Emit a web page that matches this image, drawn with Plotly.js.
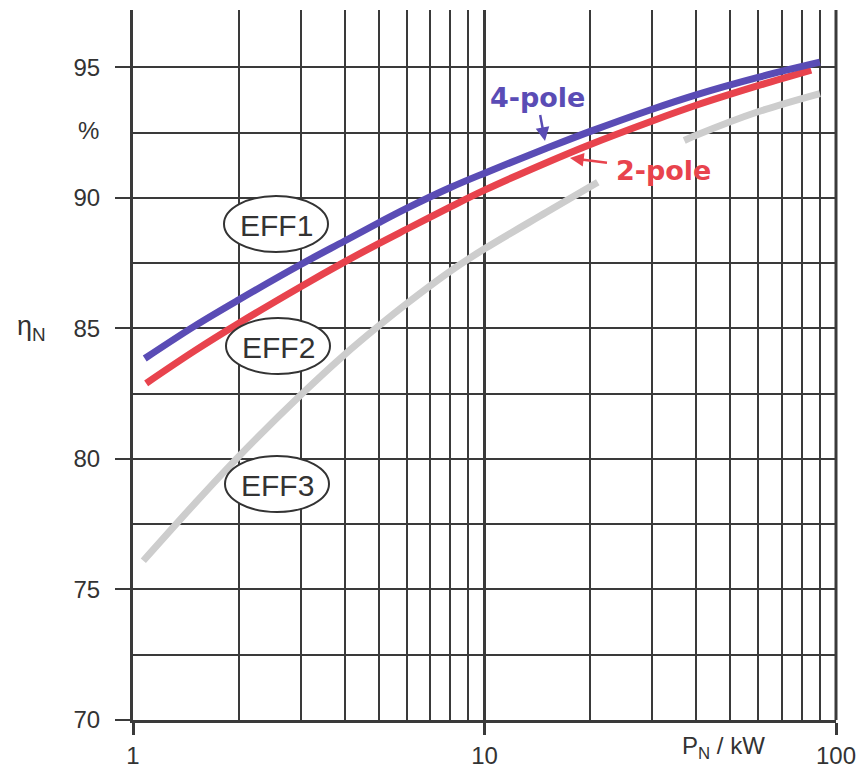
<!DOCTYPE html>
<html>
<head>
<meta charset="utf-8">
<script src="https://cdn.plot.ly/plotly-3.0.1.min.js"></script>
<style>html,body{margin:0;padding:0;background:#fff;}#chart{width:863px;height:769px;}</style>
</head>
<body>
<div id="chart"></div>
<script>
// ---- data ----
const power4pole = [1.08, 1.5, 2, 3, 4, 5, 6, 8, 10, 15, 20, 30, 40, 60, 90];
const eff4pole   = [83.85, 85.1, 86.1, 87.45, 88.35, 89.05, 89.6, 90.4, 90.95, 91.9, 92.55, 93.4, 93.95, 94.62, 95.2];
const power2pole = [1.09, 1.5, 2, 3, 4, 5, 6, 8, 10, 15, 20, 30, 40, 60, 85];
const eff2pole   = [82.9, 84.15, 85.2, 86.6, 87.55, 88.25, 88.8, 89.66, 90.3, 91.35, 92.05, 92.95, 93.55, 94.3, 94.9];
const powerEff3  = [1.07, 1.5, 2, 3, 4, 5, 6, 8, 10, 15, 21, 28, 37, 40, 60, 90];
const effEff3    = [76.1, 78.3, 80.1, 82.45, 84.0, 85.1, 85.95, 87.2, 88.05, 89.45, 90.6, null, 92.2, 92.4, 93.3, 94.0];

const xMajorTicks = [1, 10, 100];
const xMajorLabels = ['1', '10', '100'];
const xMinorTicks = [2, 3, 4, 5, 6, 7, 8, 9, 20, 30, 40, 50, 60, 70, 80, 90];
const yMajorTicks = [70, 75, 80, 85, 90, 95];
const yMajorLabels = ['70', '75', '80', '85', '90', '95'];
const yMinorTicks = [72.5, 77.5, 82.5, 87.5, 92.5];
const classLabels = ['EFF1', 'EFF2', 'EFF3'];
const seriesLabels = ['4-pole', '2-pole'];

// ---- layout geometry (pixels) ----
const W = 863, H = 769;
const M = {l: 133, r: 27, t: 10, b: 49};
const PW = W - M.l - M.r, PH = H - M.t - M.b;
const px = x => (x - M.l) / PW;
const py = y => (H - M.b - y) / PH;

const BLUE = '#5a4cb5', RED = '#e8434d', GRAY = '#cdcdcd', INK = '#333333', GRID = '#3a3a3a';
const FONT = 'Liberation Sans, Arial, Helvetica, sans-serif';

const traces = [
  {x: powerEff3, y: effEff3, mode: 'lines', line: {color: GRAY, width: 7, shape: 'spline', smoothing: 1}, connectgaps: false, name: 'EFF3 limit'},
  {x: power2pole, y: eff2pole, mode: 'lines', line: {color: RED, width: 7, shape: 'spline', smoothing: 1}, name: seriesLabels[1]},
  {x: power4pole, y: eff4pole, mode: 'lines', line: {color: BLUE, width: 7, shape: 'spline', smoothing: 1}, name: seriesLabels[0]}
];

const ellipses = [
  {cx: 276, cy: 224},
  {cx: 278, cy: 346},
  {cx: 277, cy: 484}
];
const shapes = ellipses.map(e => ({
  type: 'circle', xref: 'paper', yref: 'paper', layer: 'above',
  x0: px(e.cx - 52), x1: px(e.cx + 52), y0: py(e.cy + 28), y1: py(e.cy - 28),
  line: {color: INK, width: 2}, fillcolor: '#ffffff'
}));
// right border line at x = 100
shapes.push({type: 'line', xref: 'paper', yref: 'paper', x0: 1, x1: 1, y0: 0, y1: 1, layer: 'below',
  line: {color: GRID, width: 3}});

const annotations = [];
ellipses.forEach((e, i) => annotations.push({
  xref: 'paper', yref: 'paper', x: px(e.cx), y: py(e.cy + 1), xanchor: 'center', yanchor: 'middle',
  text: classLabels[i], showarrow: false, font: {family: FONT, size: 30, color: INK}
}));
annotations.push(
  {xref: 'paper', yref: 'paper', x: px(545), y: py(141), text: '<b>' + seriesLabels[0] + '</b>',
   showarrow: true, ax: -8, ay: -43, arrowhead: 2, arrowsize: 1.1, arrowwidth: 2.5, arrowcolor: BLUE,
   font: {family: 'DejaVu Sans, sans-serif', size: 27, color: BLUE}},
  {xref: 'paper', yref: 'paper', x: px(570), y: py(158), text: '<b>' + seriesLabels[1] + '</b>',
   showarrow: true, ax: 93, ay: 12, arrowhead: 2, arrowsize: 1.1, arrowwidth: 2.5, arrowcolor: RED, borderpad: 8,
   font: {family: 'DejaVu Sans, sans-serif', size: 27, color: RED}},
  {xref: 'paper', yref: 'paper', x: px(31), y: py(328), xanchor: 'center', yanchor: 'middle', showarrow: false,
   text: 'η<sub>N</sub>', font: {family: FONT, size: 27, color: INK}},
  {xref: 'paper', yref: 'paper', x: px(88), y: py(130), xanchor: 'center', yanchor: 'middle', showarrow: false,
   text: '%', font: {family: FONT, size: 24, color: INK}},
  {xref: 'paper', yref: 'paper', x: px(723), y: py(747), xanchor: 'center', yanchor: 'middle', showarrow: false,
   text: 'P<sub>N</sub> / kW', font: {family: FONT, size: 24, color: INK}}
);

const layout = {
  width: W, height: H,
  margin: M,
  paper_bgcolor: '#ffffff', plot_bgcolor: '#ffffff',
  showlegend: false,
  xaxis: {
    type: 'log', range: [0, 2],
    tickmode: 'array', tickvals: xMajorTicks, ticktext: xMajorLabels,
    ticks: 'outside', ticklen: 12, tickwidth: 3, tickcolor: GRID,
    showgrid: true, gridcolor: GRID, gridwidth: 3,
    showline: true, linecolor: GRID, linewidth: 3,
    zeroline: false,
    minor: {tickmode: 'array', tickvals: xMinorTicks, showgrid: true, gridcolor: GRID, gridwidth: 2, ticks: ''},
    tickfont: {family: FONT, size: 24, color: INK}
  },
  yaxis: {
    range: [70, 97.2],
    tickmode: 'array', tickvals: yMajorTicks, ticktext: yMajorLabels,
    ticks: 'outside', ticklen: 15, tickwidth: 2, tickcolor: GRID,
    showgrid: true, gridcolor: GRID, gridwidth: 2,
    showline: true, linecolor: GRID, linewidth: 3,
    zeroline: false,
    minor: {tickmode: 'array', tickvals: yMinorTicks, showgrid: true, gridcolor: GRID, gridwidth: 2, ticks: ''},
    tickfont: {family: FONT, size: 24, color: INK},
    ticklabelstandoff: 10
  },
  shapes: shapes,
  annotations: annotations
};

Plotly.newPlot('chart', traces, layout, {displayModeBar: false, staticPlot: true});
</script>
</body>
</html>
